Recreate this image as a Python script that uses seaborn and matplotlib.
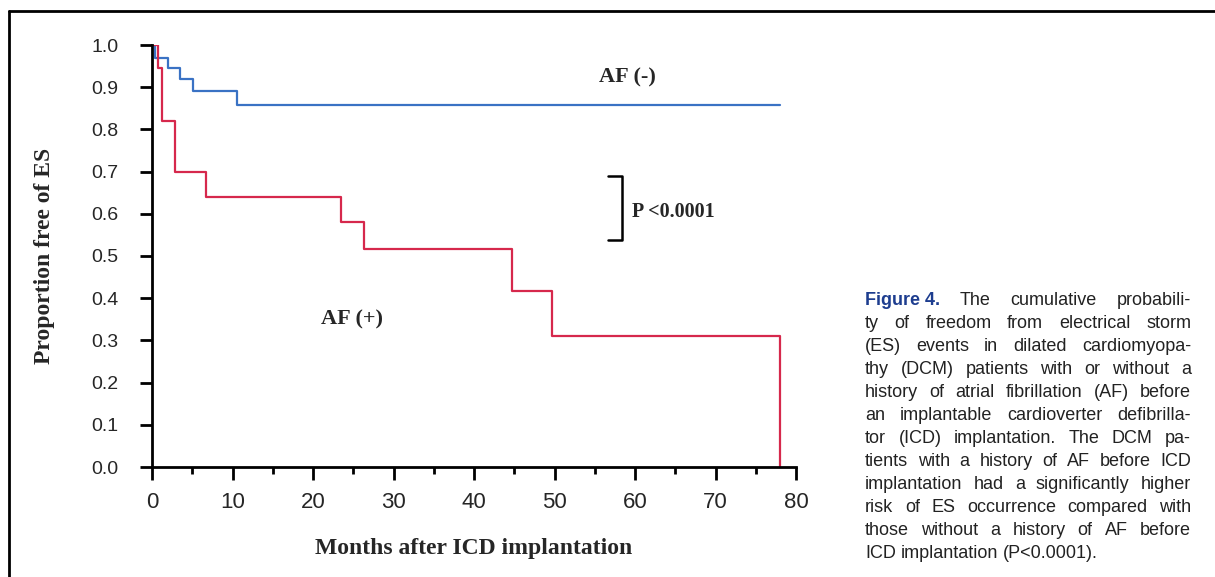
import seaborn as sns
import matplotlib.pyplot as plt
from matplotlib.lines import Line2D
from matplotlib.ticker import MultipleLocator
import pandas as pd

# Kaplan-Meier steps (months, proportion free of ES)
af_neg_months = [0, 0.4, 2.0, 3.5, 5.1, 10.5, 78.0]
af_neg_surv = [1.0, 0.97, 0.945, 0.92, 0.89, 0.858, 0.858]
af_pos_months = [0, 0.8, 1.3, 2.9, 6.7, 23.5, 26.3, 44.7, 49.7, 78.0]
af_pos_surv = [1.0, 0.945, 0.82, 0.70, 0.64, 0.58, 0.517, 0.418, 0.31, 0.0]

x_ticks = [0, 10, 20, 30, 40, 50, 60, 70, 80]
y_ticks = [0.0, 0.1, 0.2, 0.3, 0.4, 0.5, 0.6, 0.7, 0.8, 0.9, 1.0]

caption_lines = [
    "The cumulative probabili-",
    "ty of freedom from electrical storm",
    "(ES) events in dilated cardiomyopa-",
    "thy (DCM) patients with or without a",
    "history of atrial fibrillation (AF) before",
    "an implantable cardioverter defibrilla-",
    "tor (ICD) implantation. The DCM pa-",
    "tients with a history of AF before ICD",
    "implantation had a significantly higher",
    "risk of ES occurrence compared with",
    "those without a history of AF before",
    "ICD implantation (P<0.0001).",
]

df = pd.concat([
    pd.DataFrame({"month": af_neg_months, "surv": af_neg_surv, "group": "AF (-)"}),
    pd.DataFrame({"month": af_pos_months, "surv": af_pos_surv, "group": "AF (+)"}),
])

W, H = 1215, 577
sns.set_style("white")
plt.rcParams["font.family"] = ["Liberation Sans", "DejaVu Sans"]

fig = plt.figure(figsize=(W / 100, H / 100), dpi=100)
ax = fig.add_axes([152 / W, 1 - 467 / H, (796 - 152) / W, (467 - 45) / H])

sns.lineplot(data=df, x="month", y="surv", hue="group",
             palette={"AF (-)": "#3a72c4", "AF (+)": "#d6284c"},
             drawstyle="steps-post", linewidth=1.6, sort=False,
             legend=False, ax=ax)

ax.set_xlim(0, 80)
ax.set_ylim(0, 1.0)
ax.set_xticks(x_ticks)
ax.set_yticks(y_ticks)
ax.xaxis.set_minor_locator(MultipleLocator(5))
ax.set_yticklabels([f"{v:.1f}" for v in y_ticks], fontsize=14)
ax.set_xticklabels([str(v) for v in x_ticks], fontsize=16)
ax.tick_params(which="both", bottom=True, left=True, color="black", width=2,
               direction="out")
ax.tick_params(axis="both", which="major", length=9)
ax.tick_params(axis="x", which="minor", length=5)
ax.tick_params(axis="x", pad=9)
ax.tick_params(axis="y", pad=15)
sns.despine(ax=ax)
for side in ("left", "bottom"):
    ax.spines[side].set_linewidth(2)
    ax.spines[side].set_color("black")

serif = ["Liberation Serif", "DejaVu Serif"]
ax.set_xlabel("Months after ICD implantation", family=serif, fontweight="bold",
              fontsize=17, labelpad=18)
ax.set_ylabel("Proportion free of ES", family=serif, fontweight="bold",
              fontsize=17, labelpad=26)

ax.text(59, 0.924, "AF (-)", family=serif, fontweight="bold", fontsize=16,
        ha="center", va="center")
ax.text(24.8, 0.35, "AF (+)", family=serif, fontweight="bold", fontsize=16,
        ha="center", va="center")

# significance bracket
ax.plot([56.6, 58.4, 58.4, 56.6], [0.69, 0.69, 0.538, 0.538], color="black",
        lw=1.8, clip_on=False)
ax.text(59.6, 0.604, "P <0.0001", family=serif, fontweight="bold", fontsize=14.5,
        ha="left", va="center")

# frame of the figure panel (top and left only)
fig.add_artist(Line2D([9 / W, 1], [1 - 11 / H, 1 - 11 / H], color="black", lw=2))
fig.add_artist(Line2D([9 / W, 9 / W], [0, 1 - 11 / H], color="black", lw=2))

# justified caption
renderer = fig.canvas.get_renderer()
x0, x1 = 865, 1191
y0, dy = 305, 23
body = dict(fontsize=13, color="#222222", va="baseline", ha="left")


def put_line(tokens, y, justify):
    arts = []
    for word, style in tokens:
        t = fig.text(0, 1 - y / H, word, **style)
        arts.append((t, t.get_window_extent(renderer).width))
    total = sum(w for _, w in arts)
    space = fig.text(0, 0, "a a", **body)
    a_only = fig.text(0, 0, "aa", **body)
    sp = space.get_window_extent(renderer).width - a_only.get_window_extent(renderer).width
    space.remove()
    a_only.remove()
    if justify and len(arts) > 1:
        gap = (x1 - x0 - total) / (len(arts) - 1)
    else:
        gap = sp
    x = x0
    for t, w in arts:
        t.set_x(x / W)
        x += w + gap


for i, line in enumerate(caption_lines):
    tokens = [(w, body) for w in line.split()]
    if i == 0:
        tokens = [("Figure 4.", dict(body, color="#1d3d8f", fontweight="bold",
                                     fontsize=13))] + tokens
    put_line(tokens, y0 + i * dy, i < len(caption_lines) - 1)

fig.savefig("out.png", dpi=100, facecolor="white")
